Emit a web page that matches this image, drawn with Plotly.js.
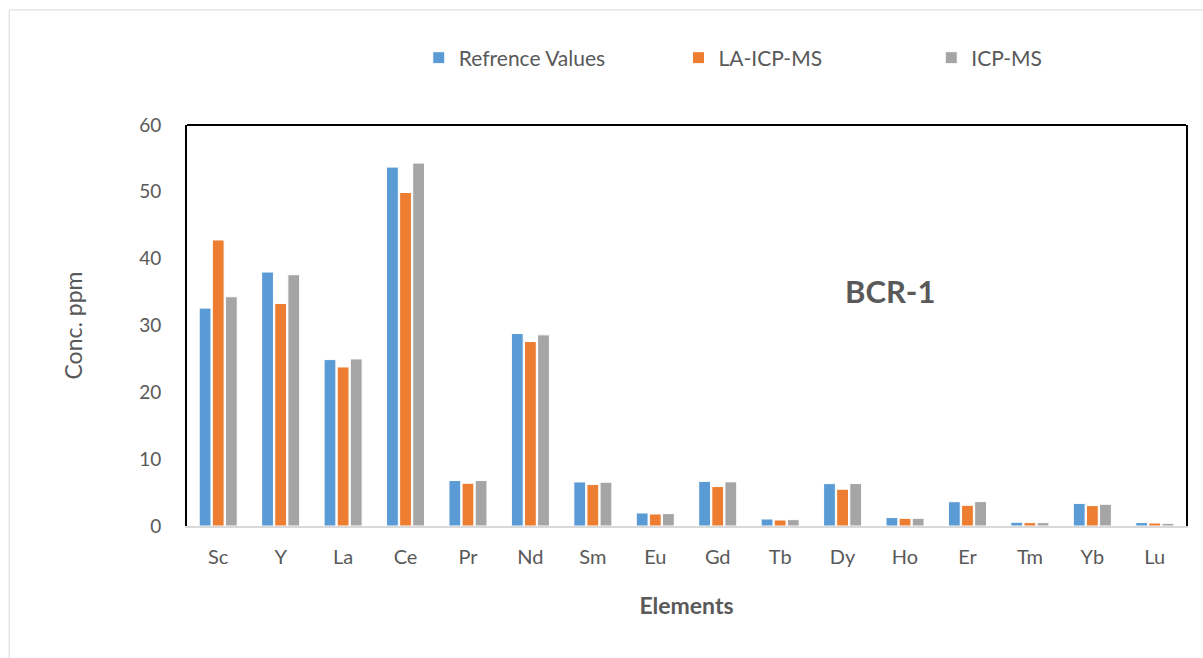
<!DOCTYPE html>
<html>
<head>
<meta charset="utf-8">
<script src="https://cdn.plot.ly/plotly-3.0.1.min.js"></script>
<style>html,body{margin:0;padding:0;background:#fff;}#chart{width:1203px;height:658px;}</style>
</head>
<body>
<div id="chart"></div>
<script>
const elements = ["Sc","Y","La","Ce","Pr","Nd","Sm","Eu","Gd","Tb","Dy","Ho","Er","Tm","Yb","Lu"];
const referenceValues = [32.6, 38.0, 24.9, 53.7, 6.8, 28.8, 6.59, 1.95, 6.68, 1.05, 6.34, 1.26, 3.63, 0.56, 3.38, 0.51];
const laIcpMs = [42.8, 33.3, 23.8, 49.9, 6.4, 27.6, 6.2, 1.8, 5.9, 0.9, 5.5, 1.15, 3.1, 0.5, 3.05, 0.45];
const icpMs = [34.3, 37.6, 25.0, 54.3, 6.8, 28.6, 6.55, 1.85, 6.6, 0.95, 6.35, 1.15, 3.65, 0.5, 3.25, 0.4];
const seriesNames = ["Refrence Values", "LA-ICP-MS", "ICP-MS"];
const colors = ["#5B9BD5", "#ED7D31", "#A5A5A5"];
const yTicks = [0, 10, 20, 30, 40, 50, 60];

const font = "Lato, 'Open Sans', sans-serif";
const txt = "#595959";
const legendIds = ["legend", "legend2", "legend3"];
const legendX = [0.232, 0.492, 0.745];

const traces = [referenceValues, laIcpMs, icpMs].map((vals, i) => ({
  type: "bar",
  x: elements,
  y: vals,
  name: seriesNames[i],
  legend: legendIds[i],
  marker: {color: colors[i], line: {color: "#ffffff", width: 1}},
  hoverinfo: "x+y+name"
}));

const layout = {
  width: 1203, height: 658,
  margin: {l: 187, r: 17, t: 125, b: 132},
  paper_bgcolor: "#ffffff", plot_bgcolor: "#ffffff",
  font: {family: font, color: txt, size: 18},
  barmode: "group",
  bargap: 0.37,
  bargroupgap: 0.1,
  showlegend: true,
  xaxis: {
    type: "category",
    showline: true, linecolor: "#d9d9d9", linewidth: 2,
    showgrid: false, zeroline: false, ticks: "",
    tickfont: {family: font, size: 20, color: txt},
    ticklabelstandoff: 12,
    title: {text: "Elements", font: {family: font, size: 23, color: txt, weight: "bold"}, standoff: 31},
    fixedrange: true
  },
  yaxis: {
    range: [0, 60], tickvals: yTicks,
    showline: true, mirror: true, linecolor: "#000000", linewidth: 2,
    showgrid: false, zeroline: false, ticks: "",
    tickfont: {family: font, size: 19, color: txt},
    ticklabelstandoff: 20,
    title: {text: "Conc. ppm", font: {family: font, size: 23, color: txt}, standoff: 50},
    fixedrange: true
  },
  shapes: [
    {type: "line", xref: "paper", yref: "paper", x0: 0, x1: 1, y0: 1, y1: 1, line: {color: "#000000", width: 2}},
    {type: "line", xref: "paper", yref: "paper", x0: -0.178, x1: 1.05, y0: 1.287, y1: 1.287, line: {color: "#d9d9d9", width: 1}},
    {type: "line", xref: "paper", yref: "paper", x0: -0.178, x1: -0.178, y0: 1.287, y1: -0.4, line: {color: "#d9d9d9", width: 1}}
  ],
  annotations: [
    {text: "BCR-1", xref: "paper", yref: "paper", x: 0.704, y: 0.585, showarrow: false,
     xanchor: "center", yanchor: "middle",
     font: {family: font, size: 31, color: txt, weight: "bold"}}
  ]
};

legendIds.forEach((id, i) => {
  layout[id] = {
    orientation: "h", x: legendX[i], y: 1.167, xanchor: "left", yanchor: "middle",
    bgcolor: "rgba(0,0,0,0)",
    font: {family: font, size: 21, color: txt},
    itemwidth: 30
  };
});

Plotly.newPlot("chart", traces, layout, {displayModeBar: false});
</script>
</body>
</html>
